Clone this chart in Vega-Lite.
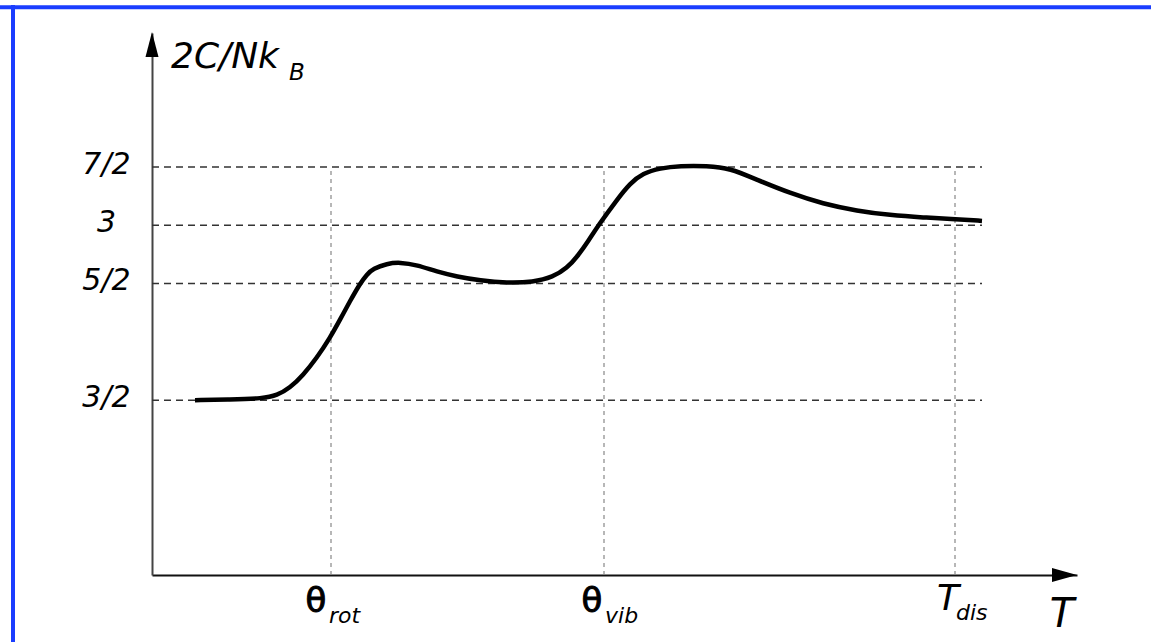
{
  "$schema": "https://vega.github.io/schema/vega-lite/v6.json",
  "width": 925,
  "height": 542,
  "autosize": {"type": "none"},
  "padding": {"left": 152, "top": 33, "right": 74, "bottom": 67},
  "background": "white",
  "config": {"view": {"stroke": null}},
  "datasets": {
    "curve": [
      {"T": 4.3, "v": 1.5}, {"T": 7.8, "v": 1.505}, {"T": 11.1, "v": 1.515}, {"T": 12.5, "v": 1.54},
      {"T": 13.8, "v": 1.605}, {"T": 15.1, "v": 1.713}, {"T": 16.5, "v": 1.865}, {"T": 17.8, "v": 2.035},
      {"T": 18.8, "v": 2.19}, {"T": 19.8, "v": 2.35}, {"T": 20.8, "v": 2.5}, {"T": 21.5, "v": 2.58},
      {"T": 22.1, "v": 2.628}, {"T": 23.5, "v": 2.672}, {"T": 24.8, "v": 2.683}, {"T": 26.5, "v": 2.66},
      {"T": 28.5, "v": 2.602}, {"T": 30.5, "v": 2.56}, {"T": 32.8, "v": 2.527}, {"T": 35.5, "v": 2.505},
      {"T": 38.1, "v": 2.513}, {"T": 40.1, "v": 2.556}, {"T": 41.5, "v": 2.633}, {"T": 42.6, "v": 2.738},
      {"T": 43.7, "v": 2.874}, {"T": 44.6, "v": 2.996}, {"T": 46.5, "v": 3.22}, {"T": 47.8, "v": 3.36},
      {"T": 49.1, "v": 3.447}, {"T": 50.8, "v": 3.49}, {"T": 52.8, "v": 3.51}, {"T": 55.5, "v": 3.51},
      {"T": 57.8, "v": 3.49}, {"T": 60.5, "v": 3.39}, {"T": 63.8, "v": 3.276}, {"T": 67.1, "v": 3.184},
      {"T": 70.5, "v": 3.124}, {"T": 73.8, "v": 3.087}, {"T": 77.1, "v": 3.067}, {"T": 80.5, "v": 3.053},
      {"T": 83, "v": 3.038}
    ],
    "hlines": [{"v": 1.5}, {"v": 2.5}, {"v": 3}, {"v": 3.5}],
    "vlines": [{"T": 17.9}, {"T": 45.2}, {"T": 80.3}],
    "one": [{}]
  },
  "layer": [
    {
      "data": {"name": "hlines"},
      "mark": {"type": "rule", "strokeDash": [7, 5], "color": "#333333", "strokeWidth": 1.5},
      "encoding": {
        "x": {"datum": 0, "type": "quantitative", "scale": {"domain": [0, 92.5], "nice": false, "zero": false},
              "axis": {"labels": false, "ticks": false, "grid": false, "domainColor": "#111111", "domainWidth": 2, "title": null}},
        "x2": {"datum": 83},
        "y": {"field": "v", "type": "quantitative", "scale": {"domain": [0, 4.65], "nice": false, "zero": false},
              "axis": {"values": [1.5, 2.5, 3, 3.5],
                       "labelExpr": "datum.value == 1.5 ? '3/2' : datum.value == 2.5 ? '5/2' : datum.value == 3 ? '3' : '7/2'",
                       "labelFont": "DejaVu Sans", "labelFontStyle": "italic", "labelFontSize": 30, "labelColor": "#000000",
                       "labelAlign": "center", "labelBaseline": "middle", "labelPadding": 46, "labelOffset": -3,
                       "ticks": false, "grid": false, "domainColor": "#444444", "domainWidth": 2, "title": null}}
      }
    },
    {
      "data": {"name": "vlines"},
      "mark": {"type": "rule", "strokeDash": [4, 4], "color": "#888888", "strokeWidth": 1.2},
      "encoding": {
        "x": {"field": "T", "type": "quantitative"},
        "y": {"datum": 0, "type": "quantitative"},
        "y2": {"datum": 3.5}
      }
    },
    {
      "data": {"name": "curve"},
      "mark": {"type": "line", "color": "black", "strokeWidth": 4.5, "interpolate": "basis"},
      "encoding": {
        "x": {"field": "T", "type": "quantitative"},
        "y": {"field": "v", "type": "quantitative"}
      }
    },
    {
      "data": {"name": "one"},
      "mark": {"type": "point", "shape": "M0,-1L0.52,1L-0.52,1Z", "filled": true, "color": "black", "size": 625, "opacity": 1},
      "encoding": {
        "x": {"datum": 0, "type": "quantitative"},
        "y": {"datum": 4.551, "type": "quantitative"}
      }
    },
    {
      "data": {"name": "one"},
      "mark": {"type": "point", "shape": "M1,0L-1,-0.56L-1,0.56Z", "filled": true, "color": "black", "size": 625, "opacity": 1},
      "encoding": {
        "x": {"datum": 91.25, "type": "quantitative"},
        "y": {"datum": 0, "type": "quantitative"}
      }
    },
    {
      "data": {"name": "one"},
      "mark": {"type": "text", "text": "θ", "font": "DejaVu Sans", "fontSize": 34, "align": "center", "baseline": "alphabetic", "dx": -15, "dy": 37, "color": "black", "stroke": "black", "strokeWidth": 1},
      "encoding": {
        "x": {"datum": 17.9, "type": "quantitative"},
        "y": {"datum": 0, "type": "quantitative"}
      }
    },
    {
      "data": {"name": "one"},
      "mark": {"type": "text", "text": "rot", "font": "DejaVu Sans", "fontStyle": "italic", "fontSize": 22, "align": "left", "baseline": "alphabetic", "dx": -2, "dy": 48, "color": "black"},
      "encoding": {
        "x": {"datum": 17.9, "type": "quantitative"},
        "y": {"datum": 0, "type": "quantitative"}
      }
    },
    {
      "data": {"name": "one"},
      "mark": {"type": "text", "text": "θ", "font": "DejaVu Sans", "fontSize": 34, "align": "center", "baseline": "alphabetic", "dx": -12, "dy": 37, "color": "black", "stroke": "black", "strokeWidth": 1},
      "encoding": {
        "x": {"datum": 45.2, "type": "quantitative"},
        "y": {"datum": 0, "type": "quantitative"}
      }
    },
    {
      "data": {"name": "one"},
      "mark": {"type": "text", "text": "vib", "font": "DejaVu Sans", "fontStyle": "italic", "fontSize": 22, "align": "left", "baseline": "alphabetic", "dx": 1, "dy": 48, "color": "black"},
      "encoding": {
        "x": {"datum": 45.2, "type": "quantitative"},
        "y": {"datum": 0, "type": "quantitative"}
      }
    },
    {
      "data": {"name": "one"},
      "mark": {"type": "text", "text": "T", "font": "DejaVu Sans", "fontStyle": "italic", "fontSize": 36, "align": "center", "baseline": "alphabetic", "dx": -7, "dy": 35, "color": "black"},
      "encoding": {
        "x": {"datum": 80.3, "type": "quantitative"},
        "y": {"datum": 0, "type": "quantitative"}
      }
    },
    {
      "data": {"name": "one"},
      "mark": {"type": "text", "text": "dis", "font": "DejaVu Sans", "fontStyle": "italic", "fontSize": 22, "align": "left", "baseline": "alphabetic", "dx": 1, "dy": 45, "color": "black"},
      "encoding": {
        "x": {"datum": 80.3, "type": "quantitative"},
        "y": {"datum": 0, "type": "quantitative"}
      }
    },
    {
      "data": {"name": "one"},
      "mark": {"type": "text", "text": "T", "font": "DejaVu Sans", "fontStyle": "italic", "fontSize": 40, "align": "center", "baseline": "alphabetic", "dx": -15, "dy": 52, "color": "black"},
      "encoding": {
        "x": {"datum": 92.5, "type": "quantitative"},
        "y": {"datum": 0, "type": "quantitative"}
      }
    },
    {
      "data": {"name": "one"},
      "mark": {"type": "text", "text": "2C/Nk", "font": "DejaVu Sans", "fontStyle": "italic", "fontSize": 36, "align": "left", "baseline": "alphabetic", "dx": 19, "dy": 35, "color": "black"},
      "encoding": {
        "x": {"datum": 0, "type": "quantitative"},
        "y": {"datum": 4.65, "type": "quantitative"}
      }
    },
    {
      "data": {"name": "one"},
      "mark": {"type": "text", "text": "B", "font": "DejaVu Sans", "fontStyle": "italic", "fontSize": 23, "align": "left", "baseline": "alphabetic", "dx": 137, "dy": 47, "color": "black"},
      "encoding": {
        "x": {"datum": 0, "type": "quantitative"},
        "y": {"datum": 4.65, "type": "quantitative"}
      }
    },
    {
      "data": {"name": "one"},
      "mark": {"type": "rule", "color": "#1a3dff", "strokeWidth": 4},
      "encoding": {
        "x": {"datum": -15.2, "type": "quantitative"},
        "x2": {"datum": 99.9},
        "y": {"datum": 4.871, "type": "quantitative"}
      }
    },
    {
      "data": {"name": "one"},
      "mark": {"type": "rule", "color": "#1a3dff", "strokeWidth": 4},
      "encoding": {
        "x": {"datum": -13.9, "type": "quantitative"},
        "y": {"datum": 4.89, "type": "quantitative"},
        "y2": {"datum": -0.6}
      }
    }
  ]
}
